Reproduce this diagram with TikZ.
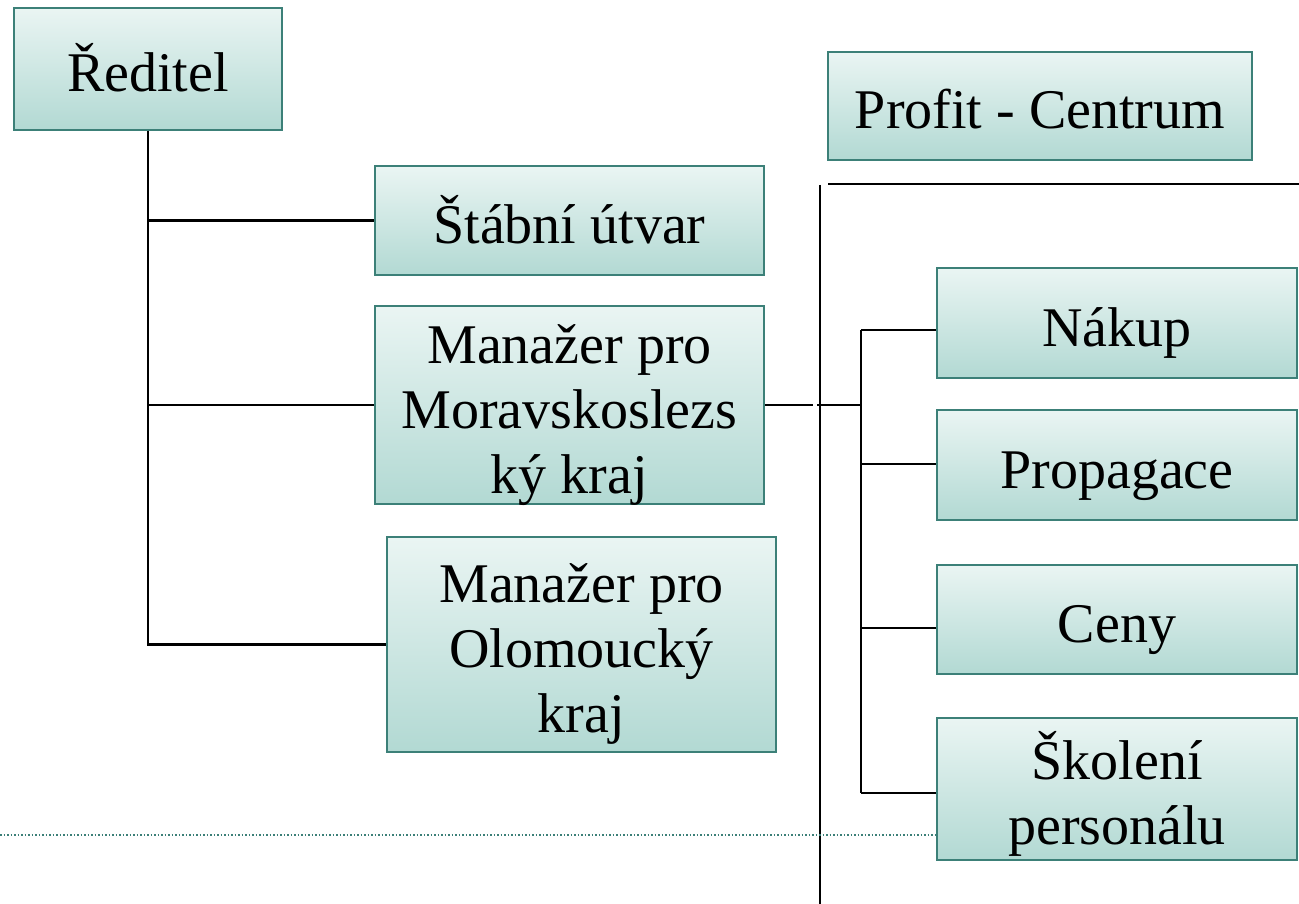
\documentclass[tikz,border=0pt]{standalone}
\usepackage{fontspec}
\setmainfont{Liberation Serif}
\definecolor{boxtop}{HTML}{EAF5F3}
\definecolor{boxbot}{HTML}{B2D9D3}
\definecolor{boxline}{HTML}{3C8078}
\newcommand\mytop{\rule{0pt}{70pt}}
\newcommand\mybot{\rule[-24pt]{0pt}{24pt}}
\begin{document}
\begin{tikzpicture}[x=1pt,y=-1pt,
  box/.style={draw=boxline, line width=2pt, top color=boxtop, bottom color=boxbot,
    align=center, inner sep=-20pt, font=\fontsize{56}{65}\selectfont},
  conn/.style={line width=2.5pt, black}]
\useasboundingbox (0,0) rectangle (1299,904);
\node[box, minimum width=268pt, minimum height=122pt] (red) at (148,69) {\mytop Ředitel\mybot};
\node[box, minimum width=424pt, minimum height=108pt] (prof) at (1040,106) {\mytop Profit - Centrum\mybot};
\node[box, minimum width=389pt, minimum height=109pt] (stab) at (569.5,220.5) {\mytop Štábní útvar\mybot};
\node[box, minimum width=389pt, minimum height=198pt] (mor) at (569.5,405) {\mytop Manažer pro\\Moravskoslezs\\ký kraj\mybot};
\node[box, minimum width=389pt, minimum height=215pt] (olo) at (581.5,644.5) {\mytop Manažer pro\\Olomoucký\\kraj\mybot};
\node[box, minimum width=360pt, minimum height=110pt] (nak) at (1117,323) {\mytop Nákup\mybot};
\node[box, minimum width=360pt, minimum height=110pt] (prop) at (1117,465) {\mytop Propagace\mybot};
\node[box, minimum width=360pt, minimum height=109pt] (ceny) at (1117,619.5) {\mytop Ceny\mybot};
\node[box, minimum width=360pt, minimum height=142pt] (skol) at (1117,789) {\mytop Školení\\personálu\mybot};
% left tree
\draw[conn] (red.south) |- (stab.west);
\draw[conn] (red.south) |- (mor.west);
\draw[conn] (red.south) |- (olo.west);
% divider lines
\coordinate (vtop) at (820,185);
\coordinate (vbot) at (820,904);
\draw[conn] (vtop) -- (vbot);
\coordinate (hl) at (828,184);
\coordinate (hr) at (1299,184);
\draw[conn] (hl) -- (hr);
\coordinate (dl) at (0,835);
\draw[boxline, line width=1.5pt, dotted] (dl) -- (dl -| skol.west);
% right tree
\coordinate (g1) at (813,405);
\coordinate (g2) at (817,405);
\coordinate (b0) at (861,405);
\coordinate (b1) at (861,330);
\coordinate (b2) at (861,464);
\coordinate (b3) at (861,628);
\coordinate (b4) at (861,793);
\draw[conn] (mor.east) -- (g1);
\draw[conn] (g2) -- (b0);
\draw[conn] (b1) -- (b4);
\draw[conn] (b1) -- (b1 -| nak.west);
\draw[conn] (b2) -- (b2 -| prop.west);
\draw[conn] (b3) -- (b3 -| ceny.west);
\draw[conn] (b4) -- (b4 -| skol.west);
\end{tikzpicture}
\end{document}
